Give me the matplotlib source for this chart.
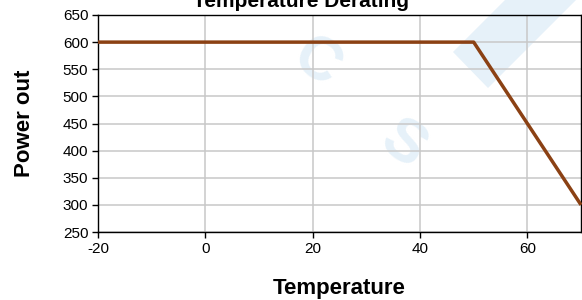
import matplotlib
matplotlib.use("Agg")
import matplotlib.pyplot as plt
from matplotlib.patches import Polygon

# -------------------- Data --------------------
temperature = [-20, 50, 70]
power_out = [600, 600, 300]

x_ticks = [-20, 0, 20, 40, 60]
y_ticks = [250, 300, 350, 400, 450, 500, 550, 600, 650]

plt.rcParams["font.family"] = ["Liberation Sans", "DejaVu Sans"]
plt.rcParams["axes.unicode_minus"] = False

# -------------------- Plot --------------------
W, H = 582, 300
fig = plt.figure(figsize=(W / 100, H / 100), dpi=100)

# light watermark behind the axes
wm_color = "#e6f1f9"
band = [(453, 52), (488, 88), (576, 0), (505, 0)]
fig.patches.append(Polygon([(x / W, 1 - y / H) for x, y in band],
                           closed=True, transform=fig.transFigure,
                           facecolor=wm_color, edgecolor="none", zorder=0))
fig.text(316 / W, 1 - 64 / H, "C", fontsize=44, color=wm_color, rotation=-35,
         fontweight="bold", ha="center", va="center", zorder=0)
fig.text(402 / W, 1 - 146 / H, "S", fontsize=44, color=wm_color, rotation=-35,
         fontweight="bold", ha="center", va="center", zorder=0)

ax = fig.add_axes([98 / W, 1 - 232 / H, (581 - 98) / W, (232 - 15) / H])
ax.set_zorder(2)
ax.patch.set_alpha(0)

ax.plot(temperature, power_out, color="#8b4114", lw=2.5, solid_capstyle="butt",
        zorder=3, clip_on=False)

ax.set_xlim(-20, 70)
ax.set_ylim(250, 650)
ax.set_xticks(x_ticks)
ax.set_yticks(y_ticks)
ax.grid(True, color="#c8c8c8", lw=1.1)
ax.set_axisbelow(True)

for s in ax.spines.values():
    s.set_linewidth(1.0)
    s.set_color("black")

ax.tick_params(axis="both", direction="out", length=4, width=1,
               labelsize=11, pad=3)

ax.set_xlabel("Temperature", fontsize=16, fontweight="bold", labelpad=16)
ax.set_ylabel("Power out", fontsize=16, fontweight="bold", labelpad=20)

fig.text(301 / W, 1 - 7 / H, "Temperature Derating", fontsize=15,
         fontweight="bold", ha="center", va="baseline")

fig.savefig("out.png", dpi=100)
plt.close(fig)
